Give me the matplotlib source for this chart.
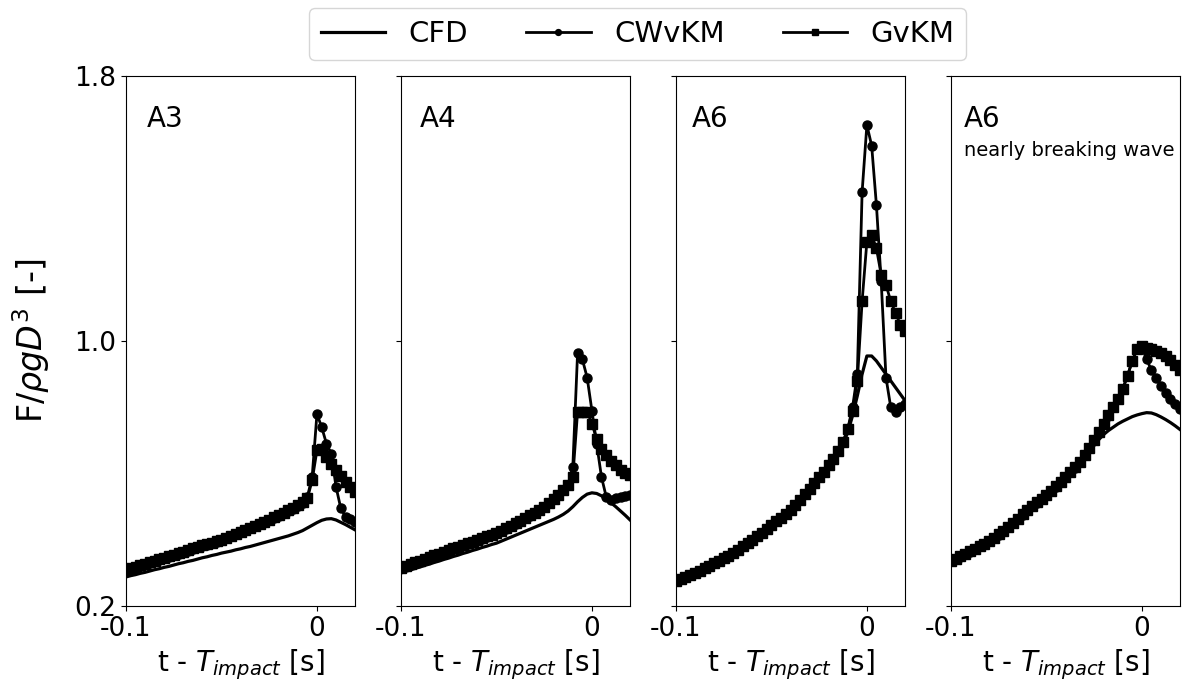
import matplotlib
matplotlib.use("Agg")
import matplotlib.pyplot as plt
import numpy as np

# time relative to impact [ms], 2.5 ms steps
t_ms = [-100, -97.5, -95, -92.5, -90, -87.5, -85, -82.5, -80, -77.5,
        -75, -72.5, -70, -67.5, -65, -62.5, -60, -57.5, -55, -52.5,
        -50, -47.5, -45, -42.5, -40, -37.5, -35, -32.5, -30, -27.5,
        -25, -22.5, -20, -17.5, -15, -12.5, -10, -7.5, -5, -2.5,
        0, 2.5, 5, 7.5, 10, 12.5, 15, 17.5, 20]

# A3
a3_cfd = [.288, .292, .295, .299, .302, .306, .310, .313, .317, .320,
          .324, .328, .331, .335, .338, .342, .346, .349, .353, .356,
          .360, .363, .366, .370, .373, .377, .380, .384, .388, .392,
          .396, .400, .404, .408, .412, .417, .422, .428, .436, .444,
          .452, .459, .463, .464, .460, .453, .446, .438, .430]
a3_cw = [.309, .313, .318, .322, .327, .331, .336, .340, .345, .349,
         .354, .358, .363, .367, .372, .377, .381, .386, .390, .395,
         .399, .405, .411, .417, .423, .429, .435, .441, .447, .453,
         .459, .466, .473, .480, .487, .494, .502, .512, .530, .590,
         .780, .740, .690, .660, .560, .495, .470, .462, .455]
a3_gv = [.310, .314, .319, .324, .328, .333, .337, .342, .346, .351,
         .355, .360, .364, .369, .374, .378, .383, .387, .392, .396,
         .401, .407, .413, .419, .425, .431, .437, .443, .449, .455,
         .461, .468, .475, .482, .489, .496, .504, .514, .525, .580,
         .670, .675, .650, .630, .610, .592, .576, .560, .545]

# A4
a4_cfd = [.300, .305, .309, .314, .318, .323, .327, .332, .336, .341,
          .345, .350, .354, .359, .363, .368, .372, .377, .381, .386,
          .390, .396, .402, .408, .414, .420, .426, .432, .438, .444,
          .450, .456, .462, .469, .477, .487, .500, .515, .528, .538,
          .542, .540, .533, .523, .512, .500, .487, .474, .460]
a4_cw = [.315, .320, .326, .331, .336, .341, .347, .352, .357, .362,
         .368, .373, .378, .383, .389, .394, .399, .404, .410, .415,
         .420, .427, .434, .441, .449, .457, .465, .473, .481, .490,
         .499, .510, .522, .535, .549, .566, .620, .965, .945, .890,
         .790, .690, .590, .530, .520, .525, .530, .532, .535]
a4_gv = [.316, .321, .327, .332, .337, .342, .348, .353, .358, .363,
         .369, .374, .379, .384, .390, .395, .400, .405, .411, .416,
         .421, .428, .435, .442, .450, .458, .466, .474, .482, .491,
         .500, .511, .523, .536, .550, .566, .590, .787, .787, .787,
         .750, .705, .675, .655, .638, .625, .612, .603, .595]

# A6
a6_cfd = [.270, .276, .282, .288, .295, .302, .309, .317, .325, .332,
          .340, .347, .355, .365, .375, .385, .395, .406, .417, .428,
          .440, .451, .462, .473, .485, .500, .516, .533, .550, .567,
          .584, .601, .620, .640, .662, .688, .725, .775, .835, .900,
          .955, .955, .940, .920, .900, .880, .860, .840, .820]
a6_cw = [.275, .281, .287, .293, .300, .307, .314, .322, .330, .337,
         .345, .352, .360, .370, .380, .390, .400, .411, .422, .433,
         .445, .456, .467, .478, .490, .505, .521, .538, .555, .572,
         .589, .606, .625, .645, .668, .695, .735, .800, .900, 1.45,
         1.652, 1.59, 1.41, 1.18, .890, .800, .787, .800, .810]
a6_gv = [.275, .281, .287, .293, .300, .307, .314, .322, .330, .337,
         .345, .352, .360, .370, .380, .390, .400, .411, .422, .433,
         .445, .456, .467, .478, .490, .505, .521, .538, .555, .572,
         .589, .606, .625, .645, .668, .695, .735, .790, .880, 1.12,
         1.30, 1.32, 1.28, 1.20, 1.17, 1.12, 1.085, 1.05, 1.03]

# A6, nearly breaking wave
a6b_cfd = [.330, .337, .344, .351, .359, .367, .375, .383, .391, .401,
           .411, .422, .433, .445, .458, .471, .485, .496, .507, .518,
           .529, .542, .556, .570, .585, .599, .612, .627, .645, .664,
           .685, .703, .718, .730, .740, .750, .758, .765, .772, .777,
           .781, .784, .783, .778, .771, .763, .754, .744, .733]
a6b_cw = [.335, .342, .349, .356, .364, .372, .380, .388, .396, .406,
          .416, .427, .438, .450, .463, .476, .490, .501, .512, .523,
          .534, .547, .561, .575, .590, .604, .618, .634, .655, .677,
          .700, .725, .750, .775, .800, .825, .855, .895, .940, .975,
          .980, .945, .912, .890, .865, .842, .825, .810, .795]
a6b_gv = [.336, .343, .350, .357, .365, .373, .381, .389, .397, .407,
          .417, .428, .439, .451, .464, .477, .491, .502, .513, .524,
          .535, .548, .562, .576, .591, .605, .619, .635, .656, .678,
          .701, .726, .751, .776, .801, .826, .856, .896, .941, .976,
          .985, .978, .975, .970, .965, .955, .942, .928, .912]

labels = ["A3", "A4", "A6", "A6"]
label_x = [0.09, 0.08, 0.07, 0.055]
cfd = [a3_cfd, a4_cfd, a6_cfd, a6b_cfd]
cw = [a3_cw, a4_cw, a6_cw, a6b_cw]
gv = [a3_gv, a4_gv, a6_gv, a6b_gv]

t = np.array(t_ms) / 1000.0

fig, axes = plt.subplots(1, 4, sharey=True, figsize=(11.83, 6.88), dpi=100)
fig.subplots_adjust(left=0.1065, right=0.9975, bottom=0.119, top=0.8895, wspace=0.2)

for i, ax in enumerate(axes):
    ax.plot(t, cfd[i], color="k", lw=2.3, label="CFD")
    ax.plot(t, cw[i], color="k", lw=2.0, marker="o", ms=6.5, label="CWvKM")
    ax.plot(t, gv[i], color="k", lw=2.0, marker="s", ms=6.5, label="GvKM")
    ax.set_xlim(-0.1, 0.02)
    ax.set_ylim(0.2, 1.8)
    ax.set_xticks([-0.1, 0])
    ax.set_xticklabels(["-0.1", "0"])
    ax.set_yticks([0.2, 1.0, 1.8])
    ax.tick_params(labelsize=19)
    ax.set_xlabel("t - $T_{impact}$ [s]", fontsize=20)
    ax.text(label_x[i], 0.945, labels[i], transform=ax.transAxes,
            fontsize=20, va="top", ha="left")

axes[0].set_yticklabels(["0.2", "1.0", "1.8"])
axes[0].set_ylabel(r"F/$\rho g D^3$ [-]", fontsize=24, labelpad=16)
axes[3].text(label_x[3], 0.878, "nearly breaking wave", transform=axes[3].transAxes,
             fontsize=14, va="top", ha="left")

handles, leg_labels = axes[0].get_legend_handles_labels()
fig.legend(handles, leg_labels, loc="upper center", bbox_to_anchor=(0.539, 0.988),
           borderaxespad=0, ncol=3, fontsize=21, markerscale=0.65,
           handlelength=2.2, handletextpad=0.8, columnspacing=2.0)

fig.savefig("out.png", dpi=100)
